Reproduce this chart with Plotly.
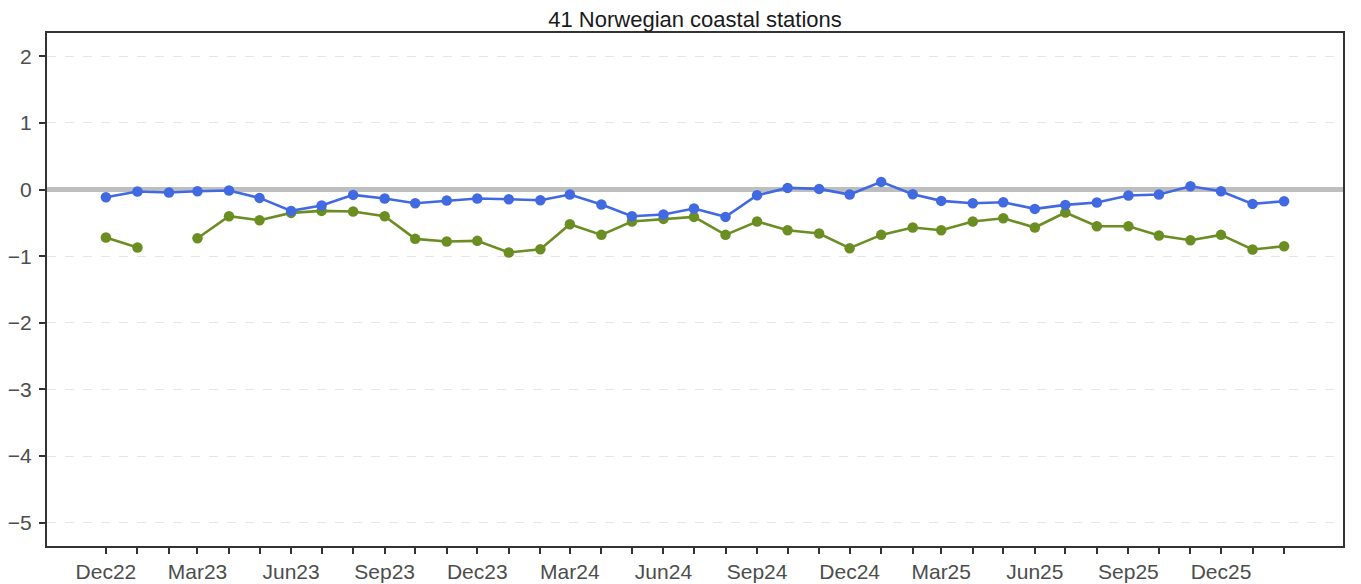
import pandas as pd
import plotly.graph_objects as go

# Monthly dates Dec 2022 .. Feb 2026
months = pd.date_range("2022-12-01", "2026-02-01", freq="MS")

blue_values = [
    -0.115, -0.03, -0.045, -0.025, -0.015, -0.125, -0.32, -0.24, -0.08, -0.135,
    -0.205, -0.165, -0.135, -0.145, -0.16, -0.075, -0.225, -0.40, -0.375, -0.285,
    -0.41, -0.085, 0.025, 0.01, -0.075, 0.115, -0.07, -0.17, -0.205, -0.19,
    -0.29, -0.23, -0.195, -0.09, -0.075, 0.05, -0.025, -0.215, -0.175,
]
green_values = [
    -0.72, -0.87, None, -0.73, -0.40, -0.46, -0.35, -0.32, -0.33, -0.40,
    -0.74, -0.78, -0.77, -0.945, -0.895, -0.52, -0.68, -0.48, -0.44, -0.41,
    -0.68, -0.48, -0.61, -0.66, -0.88, -0.68, -0.57, -0.61, -0.48, -0.43,
    -0.57, -0.345, -0.55, -0.55, -0.69, -0.76, -0.68, -0.90, -0.85,
]
title_text = "41 Norwegian coastal stations"
y_ticks = [-5, -4, -3, -2, -1, 0, 1, 2]

tick_text = [d.strftime("%b%y") if i % 3 == 0 else "" for i, d in enumerate(months)]

span = months[-1] - months[0]
pad = span * 0.05
x_range = [months[0] - pad, months[-1] + pad]

fig = go.Figure()
fig.add_trace(go.Scatter(
    x=months, y=green_values, mode="lines+markers",
    line=dict(color="#6B8E23", width=2.6), marker=dict(color="#6B8E23", size=10.5),
    connectgaps=False, showlegend=False,
))
fig.add_trace(go.Scatter(
    x=months, y=blue_values, mode="lines+markers",
    line=dict(color="#4169E1", width=2.6), marker=dict(color="#4169E1", size=10.5),
    connectgaps=False, showlegend=False,
))

axis_font = dict(family="Liberation Sans, Arial, sans-serif", size=21, color="#4d4d4d")

fig.update_layout(
    width=1361, height=584,
    margin=dict(l=47, r=18, t=33, b=38),
    paper_bgcolor="white", plot_bgcolor="white",
    title=dict(text=title_text, x=0.5, xref="paper", xanchor="center",
               y=1 - 19 / 584, yref="container", yanchor="middle",
               font=dict(family="Liberation Sans, Arial, sans-serif", size=22, color="#1a1a1a")),
    xaxis=dict(
        range=x_range, tickmode="array", tickvals=list(months), ticktext=tick_text,
        ticks="outside", ticklen=6, tickwidth=2, tickcolor="#333333",
        showgrid=False, zeroline=False, automargin=False,
        showline=True, mirror=True, linecolor="#333333", linewidth=2,
        tickfont=axis_font, tickangle=0,
    ),
    yaxis=dict(
        range=[-5.35, 2.35], tickmode="array", tickvals=y_ticks,
        ticks="outside", ticklen=6, tickwidth=2, tickcolor="#333333",
        showgrid=True, gridcolor="#e6e6e6", gridwidth=1, griddash="dash",
        zeroline=True, zerolinecolor="#bebebe", zerolinewidth=5,
        showline=True, mirror=True, linecolor="#333333", linewidth=2,
        tickfont=axis_font, automargin=False, ticklabelstandoff=3,
    ),
)

fig.write_html(
    "out.html",
    config={"displayModeBar": False},
    post_script="document.body.style.margin='0';document.body.style.overflow='hidden';",
)
